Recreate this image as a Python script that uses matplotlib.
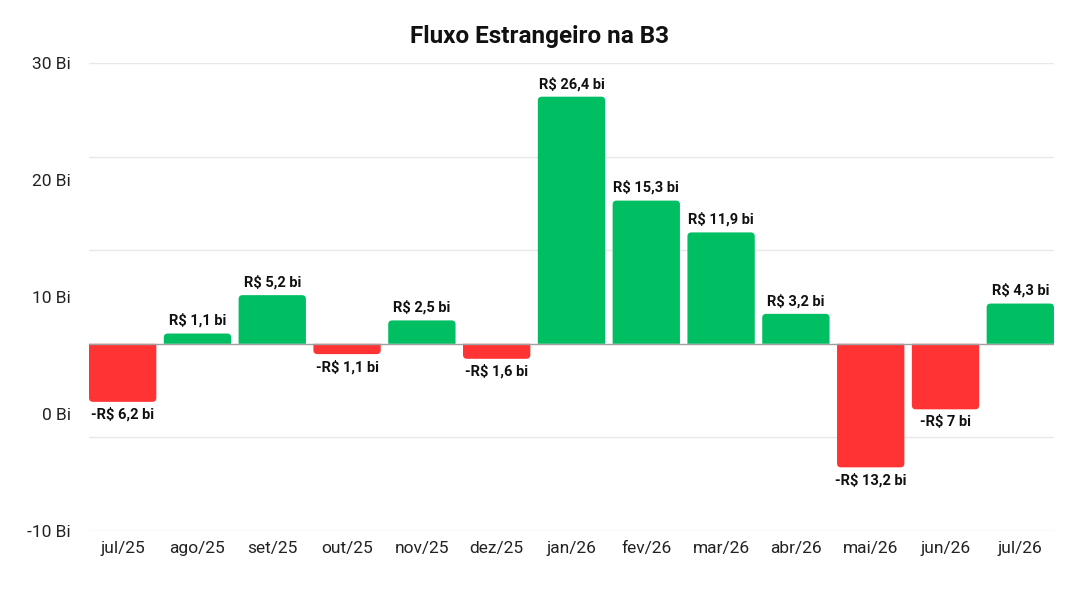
import matplotlib
matplotlib.use("Agg")
import matplotlib.pyplot as plt
from matplotlib.patches import PathPatch
from matplotlib.path import Path

months = ["jul/25", "ago/25", "set/25", "out/25", "nov/25", "dez/25", "jan/26",
          "fev/26", "mar/26", "abr/26", "mai/26", "jun/26", "jul/26"]
flows = [-6.2, 1.1, 5.2, -1.1, 2.5, -1.6, 26.4, 15.3, 11.9, 3.2, -13.2, -7.0, 4.3]
bar_labels = ["-R$ 6,2 bi", "R$ 1,1 bi", "R$ 5,2 bi", "-R$ 1,1 bi", "R$ 2,5 bi",
              "-R$ 1,6 bi", "R$ 26,4 bi", "R$ 15,3 bi", "R$ 11,9 bi", "R$ 3,2 bi",
              "-R$ 13,2 bi", "-R$ 7 bi", "R$ 4,3 bi"]
ytick_labels = ["30 Bi", "20 Bi", "10 Bi", "0 Bi", "-10 Bi"]

GREEN = "#00bf63"
RED = "#ff3333"

plt.rcParams["font.family"] = ["Roboto", "DejaVu Sans"]

fig = plt.figure(figsize=(10.8, 6.08), dpi=100)
ax = fig.add_axes([0.0824, 0.1266, 0.8935, 0.7698])

x = list(range(len(months)))
colors = [GREEN if v >= 0 else RED for v in flows]
bars = ax.bar(x, flows, width=0.9, color=colors, zorder=2)

ax.set_xlim(-0.45, len(months) - 0.55)
ax.set_ylim(-20, 30)

# swap each bar for one path with rounded corners at the far end
rx = 4 / 74.8
ry = 4 / 9.36
for b, c in zip(bars, colors):
    b.set_visible(False)
    x0, w, h = b.get_x(), b.get_width(), b.get_height()
    x1 = x0 + w
    s = 1 if h >= 0 else -1
    k = min(ry, abs(h) / 2) * s
    verts = [(x0, 0), (x0, h - k), (x0, h), (x0 + rx, h), (x1 - rx, h),
             (x1, h), (x1, h - k), (x1, 0), (x0, 0)]
    codes = [Path.MOVETO, Path.LINETO, Path.CURVE3, Path.CURVE3, Path.LINETO,
             Path.CURVE3, Path.CURVE3, Path.LINETO, Path.CLOSEPOLY]
    ax.add_patch(PathPatch(Path(verts, codes), fc=c, ec="none", zorder=2))

for xi, v, lab in zip(x, flows, bar_labels):
    if v >= 0:
        ax.annotate(lab, (xi, v), xytext=(0, 4), textcoords="offset points",
                    ha="center", va="bottom", fontsize=10.5, fontweight="bold",
                    color="#111111")
    else:
        ax.annotate(lab, (xi, v), xytext=(0, -4), textcoords="offset points",
                    ha="center", va="top", fontsize=10.5, fontweight="bold",
                    color="#111111")

# grid every 10, labels spread evenly
for g in range(-20, 31, 10):
    if g == 0:
        continue
    ax.axhline(g, color="#e8e8e8", lw=1, zorder=0)
ax.axhline(0, color="#a0a0a0", lw=1, zorder=3)

ax.set_yticks([30, 17.5, 5, -7.5, -20])
ax.set_yticklabels(ytick_labels)
ax.set_xticks(x)
ax.set_xticklabels(months)
ax.tick_params(axis="both", length=0, labelsize=12.5, colors="#222222")
ax.tick_params(axis="y", pad=13)
ax.tick_params(axis="x", pad=7)
for s in ax.spines.values():
    s.set_visible(False)

fig.text(0.5, 0.94, "Fluxo Estrangeiro na B3", ha="center", va="center",
         fontsize=17.5, fontweight="bold", color="#111111")

fig.savefig("out.png", dpi=100, facecolor="white")
